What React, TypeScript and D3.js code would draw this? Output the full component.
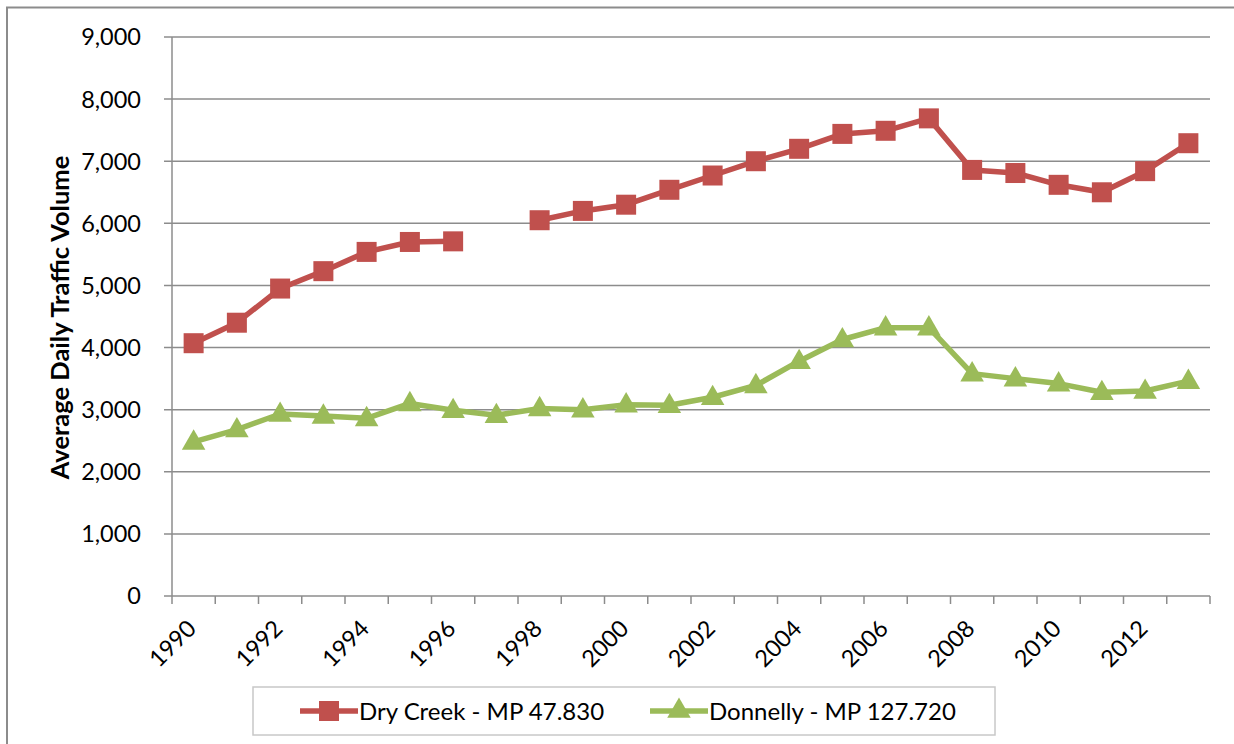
import React, { useRef, useEffect } from 'react'
import * as d3 from 'd3'

const years = d3.range(1990, 2014)
const dryCreek: (number | null)[] = [
  4070, 4400, 4950, 5230, 5540, 5700, 5710, null, 6050, 6200, 6300, 6540,
  6770, 7000, 7200, 7440, 7490, 7690, 6860, 6810, 6620, 6500, 6840, 7290,
]
const donnelly: number[] = [
  2480, 2680, 2930, 2900, 2860, 3100, 2990, 2910, 3020, 3000, 3080, 3070,
  3200, 3390, 3780, 4130, 4320, 4320, 3580, 3500, 3420, 3280, 3300, 3460,
]
const yTicks = [0, 1000, 2000, 3000, 4000, 5000, 6000, 7000, 8000, 9000]
const labelYears = years.filter((y) => y % 2 === 0)

const RED = '#C0504D'
const GREEN = '#9BBB59'
const GRID = '#8c8c8c'
const FONT = 'Lato, "Open Sans", sans-serif'

const App = () => {
  const svgRef = useRef<SVGSVGElement>(null)

  useEffect(() => {
    const svg = d3.select(svgRef.current).attr('width', 1234).attr('height', 744)
    svg.selectAll('*').remove()

    const left = 172
    const right = 1210
    const top = 37
    const bottom = 596

    const x = d3.scaleBand<number>().domain(years).range([left, right])
    const y = d3.scaleLinear().domain([0, 9000]).range([bottom, top])
    const cx = (yr: number) => (x(yr) as number) + x.bandwidth() / 2

    // outer frame
    svg
      .append('rect')
      .attr('x', 7)
      .attr('y', 7.5)
      .attr('width', 1240)
      .attr('height', 760)
      .attr('fill', 'white')
      .attr('stroke', GRID)
      .attr('stroke-width', 2)

    // gridlines
    svg
      .append('g')
      .selectAll('line')
      .data(yTicks)
      .enter()
      .append('line')
      .attr('x1', left - 8)
      .attr('x2', right)
      .attr('y1', (d) => y(d))
      .attr('y2', (d) => y(d))
      .attr('stroke', GRID)
      .attr('stroke-width', 1.5)

    // y axis line
    svg
      .append('line')
      .attr('x1', left)
      .attr('x2', left)
      .attr('y1', top)
      .attr('y2', bottom)
      .attr('stroke', GRID)
      .attr('stroke-width', 1.5)

    // y labels
    svg
      .append('g')
      .selectAll('text')
      .data(yTicks)
      .enter()
      .append('text')
      .attr('x', 141)
      .attr('y', (d) => y(d))
      .attr('dy', '0.36em')
      .attr('text-anchor', 'end')
      .attr('font-family', FONT)
      .attr('font-size', 23.5)
      .attr('fill', '#000')
      .text((d) => d3.format(',')(d))

    // x ticks at category boundaries
    const bounds = years.map((yr) => x(yr) as number).concat([right])
    svg
      .append('g')
      .selectAll('line')
      .data(bounds)
      .enter()
      .append('line')
      .attr('x1', (d) => d)
      .attr('x2', (d) => d)
      .attr('y1', bottom)
      .attr('y2', bottom + 8)
      .attr('stroke', GRID)
      .attr('stroke-width', 1.5)

    // x labels
    svg
      .append('g')
      .selectAll('text')
      .data(labelYears)
      .enter()
      .append('text')
      .attr('transform', (d) => `translate(${cx(d) - 2},${bottom + 28}) rotate(-45)`)
      .attr('text-anchor', 'end')
      .attr('dy', '0.36em')
      .attr('font-family', FONT)
      .attr('font-size', 23.5)
      .attr('fill', '#000')
      .text((d) => d)

    // axis title
    svg
      .append('text')
      .attr('transform', `translate(69,${(top + bottom) / 2 + 1}) rotate(-90)`)
      .attr('text-anchor', 'middle')
      .attr('font-family', FONT)
      .attr('font-weight', 'bold')
      .attr('font-size', 25.5)
      .attr('fill', '#000')
      .text('Average Daily Traffic Volume')

    const line = d3
      .line<number | null>()
      .defined((d) => d !== null)
      .x((_, i) => cx(years[i]))
      .y((d) => y(d as number))

    const tri = d3.symbol().type(d3.symbolTriangle).size(240)

    // Dry Creek
    svg
      .append('path')
      .datum(dryCreek)
      .attr('d', line)
      .attr('fill', 'none')
      .attr('stroke', RED)
      .attr('stroke-width', 5.5)
      .attr('stroke-linejoin', 'round')
    svg
      .append('g')
      .selectAll('rect')
      .data(dryCreek.map((v, i) => ({ v, yr: years[i] })).filter((d) => d.v !== null))
      .enter()
      .append('rect')
      .attr('x', (d) => cx(d.yr) - 10)
      .attr('y', (d) => y(d.v as number) - 10)
      .attr('width', 20)
      .attr('height', 20)
      .attr('fill', RED)

    // Donnelly
    svg
      .append('path')
      .datum(donnelly)
      .attr('d', line)
      .attr('fill', 'none')
      .attr('stroke', GREEN)
      .attr('stroke-width', 5.5)
      .attr('stroke-linejoin', 'round')
    svg
      .append('g')
      .selectAll('path')
      .data(donnelly)
      .enter()
      .append('path')
      .attr('d', tri)
      .attr('transform', (d, i) => `translate(${cx(years[i])},${y(d) + 1})`)
      .attr('fill', GREEN)

    // legend
    const lg = svg.append('g')
    lg.append('rect')
      .attr('x', 253)
      .attr('y', 687)
      .attr('width', 742)
      .attr('height', 48)
      .attr('fill', 'white')
      .attr('stroke', '#c8c8c8')
      .attr('stroke-width', 1.5)
    const items = [
      { name: 'Dry Creek - MP 47.830', color: RED, x0: 300, shape: 'sq' },
      { name: 'Donnelly - MP 127.720', color: GREEN, x0: 650, shape: 'tri' },
    ]
    const ly = 711
    items.forEach((it) => {
      lg.append('line')
        .attr('x1', it.x0)
        .attr('x2', it.x0 + 58)
        .attr('y1', ly)
        .attr('y2', ly)
        .attr('stroke', it.color)
        .attr('stroke-width', 5.5)
      if (it.shape === 'sq') {
        lg.append('rect')
          .attr('x', it.x0 + 29 - 10)
          .attr('y', ly - 10)
          .attr('width', 20)
          .attr('height', 20)
          .attr('fill', it.color)
      } else {
        lg.append('path')
          .attr('d', tri)
          .attr('transform', `translate(${it.x0 + 29},${ly})`)
          .attr('fill', it.color)
      }
      lg.append('text')
        .attr('x', it.x0 + 59)
        .attr('y', ly)
        .attr('dy', '0.36em')
        .attr('font-family', FONT)
        .attr('font-size', 24)
        .attr('fill', '#000')
        .text(it.name)
    })
  }, [])

  return <svg ref={svgRef} style={{ position: 'absolute', left: 0, top: 0 }} />
}

export default App
